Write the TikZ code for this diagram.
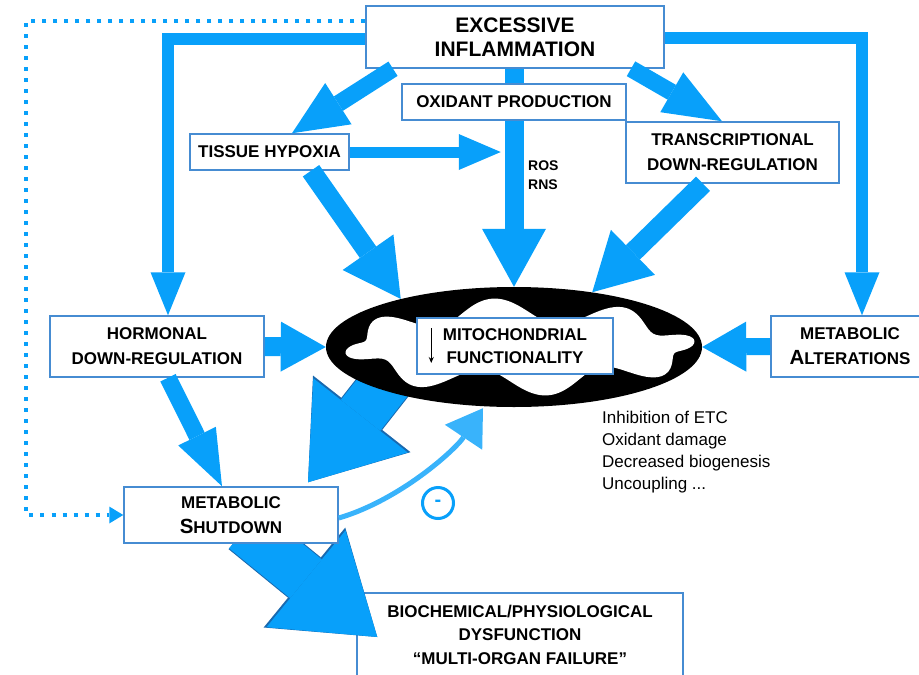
\documentclass[tikz,border=0pt]{standalone}
\usepackage{fontspec}
\setmainfont{Liberation Sans}
\usetikzlibrary{calc}
\usetikzlibrary{arrows.meta}
\usetikzlibrary{shapes.geometric}
\definecolor{flowblue}{RGB}{8,160,250}
\definecolor{boxblue}{RGB}{70,140,210}
\definecolor{bigedge}{RGB}{25,105,175}
\pgfdeclarelayer{under}
\pgfsetlayers{under,main}
\newcommand{\boxfont}{\bfseries\fontsize{17}{25}\selectfont}
\newcommand{\initcap}[1]{{\fontsize{20.5}{25}\selectfont #1}}

\begin{document}
\begin{tikzpicture}[x=1pt,y=-1pt,
        box/.style={draw=boxblue,line width=1.5pt,fill=white,align=center,font=\boxfont,inner sep=0pt},
        flow/.style n args={3}{draw=flowblue,line width=#1,-{Triangle[length=#2,width=#3,line width=0pt]}}]
                \useasboundingbox (0,0) rectangle (919,675);
                \clip (0,0) rectangle (919,675);
                % boxes
                \node[box,minimum width=298pt,minimum height=62pt,font=\bfseries\fontsize{21}{24}\selectfont] (excess) at (515,37) {EXCESSIVE\\INFLAMMATION};
                \node[box,minimum width=224pt,minimum height=36pt] (oxidant) at (514,102) {OXIDANT PRODUCTION};
                \node[box,minimum width=159pt,minimum height=36pt] (hypoxia) at (269.5,152) {TISSUE HYPOXIA};
                \node[box,minimum width=213pt,minimum height=61pt] (transc) at (732.5,152.5) {TRANSCRIPTIONAL\\DOWN-REGULATION};
                \node[box,minimum width=214pt,minimum height=61pt] (hormonal) at (157,346.5) {HORMONAL\\DOWN-REGULATION};
                \node[box,minimum width=158pt,minimum height=61pt] (metalt) at (850,346.5) {METABOLIC\\\initcap{A}LTERATIONS};
                \node[box,minimum width=214pt,minimum height=56pt] (shutdown) at (231,515) {METABOLIC\\\initcap{S}HUTDOWN};
                % mitochondrion
                \node[ellipse,fill=black,minimum width=376pt,minimum height=120pt,inner sep=0pt] (mito) at (514,347) {};
                \fill[white,shift={(mito.center)}] plot[domain=0:360,samples=160,smooth] ({6+(168+8*sin(8*\x+20))*cos(\x)},{-(36+13*sin(8*\x+20))*sin(\x)}) -- cycle;
                \node[box,minimum width=196pt,minimum height=56pt,font=\bfseries\fontsize{17}{23}\selectfont] (mitobox) at (515,346) {MITOCHONDRIAL\\FUNCTIONALITY};
                \draw[line width=1.5pt,-{Stealth[length=6pt,width=5pt]}] ($(mitobox.west)+(15,-18)$) -- ($(mitobox.west)+(15,17)$);
                % texts
                \node[anchor=west,align=left,inner sep=0pt,font=\bfseries\fontsize{14}{19}\selectfont] (ros) at (528,175) {ROS\\RNS};
                \node[anchor=north west,align=left,inner sep=0pt,font=\fontsize{17}{22}\selectfont] (effects) at (602,411) {Inhibition of ETC\\Oxidant damage\\Decreased biogenesis\\Uncoupling ...};
                % arrows
                \draw[flow={12pt}{43pt}{35pt}] ($(excess.west)+(0,2)$) -| ($(hormonal.north)+(11,0)$);
                \draw[flow={12pt}{43pt}{35pt}] ($(excess.east)+(0,1)$) -| ($(metalt.north)+(12,0)$);
                \draw[flowblue,line width=19pt] (oxidant.north) -- (oxidant.north |- excess.south);
                \draw[flow={17pt}{55pt}{49pt}] ($(excess.south)+(-122,0)$) -- ($(hypoxia.north)+(22.5,0)$);
                \draw[flow={17pt}{58pt}{46pt}] ($(excess.south)+(116,0)$) -- ($(transc.north)+(-10.5,0)$);
                \draw[flow={19pt}{58pt}{64pt}] (oxidant.south) -- (mito.north);
                \coordinate (rosend) at ($(hypoxia.east)+(151,0)$);
                \draw[flow={11pt}{42pt}{36pt}] (hypoxia.east) -- (rosend);
                \draw[flow={20pt}{57pt}{62pt}] ($(hypoxia.south)+(41.5,0)$) -- (mito.157);
                \draw[flow={20pt}{57pt}{63pt}] ($(transc.south)+(-29.5,0)$) -- (mito.35);
                \draw[flow={19pt}{45pt}{50pt}] (hormonal.east) -- (mito.west);
                \draw[flow={17pt}{44pt}{50pt}] (metalt.west) -- (mito.east);
                \draw[flow={17pt}{56pt}{42pt}] ($(hormonal.south)+(11,0)$) -- ($(shutdown.north)+(-9,0)$);
                % dotted feedback
                \draw[flowblue,line width=4pt,dash pattern=on 4pt off 7pt,-{Triangle[length=14pt,width=17pt,line width=0pt]}] ($(excess.north west)+(0,16)$) -| ($(shutdown.west)+(-97,0)$) -- (shutdown.west);
                % inhibition
                \draw[flowblue!80,line width=5pt,-{Triangle[length=35pt,width=45pt,line width=0pt]}] ($(shutdown.east)+(0,3)$) .. controls (400,500) and (455,450) .. ($(mito.south)+(-31,1)$);
                \node[circle,draw=flowblue,line width=3pt,minimum size=31pt,inner sep=0pt,text=flowblue,font=\bfseries\fontsize{20}{20}\selectfont] (minus) at (438,503) {-};
                % big arrows
                \begin{pgfonlayer}{under}
                \node[box,minimum width=326pt,minimum height=83pt,font=\bfseries\fontsize{17}{23.5}\selectfont] (bio) at (520,634.5) {BIOCHEMICAL/PHYSIOLOGICAL\\DYSFUNCTION\\“MULTI-ORGAN FAILURE”};
                \draw[bigedge,line width=52pt,-{Triangle[length=87pt,width=124pt,line width=0pt]}] ($(mito.center)+(-117,22)$) -- ($(shutdown.north)+(77,-4)$);
                \draw[flowblue,line width=50pt,-{Triangle[length=85pt,width=120pt,line width=0pt]}] ($(mito.center)+(-117,22)$) -- ($(shutdown.north)+(77,-4)$);
                \draw[bigedge,line width=52pt,-{Triangle[length=94pt,width=129pt,line width=0pt]}] ($(shutdown.center)+(14,14)$) -- ($(bio.west)+(21,2.5)$);
                \draw[flowblue,line width=50pt,-{Triangle[length=92pt,width=125pt,line width=0pt]}] ($(shutdown.center)+(14,14)$) -- ($(bio.west)+(21,2.5)$);
                \end{pgfonlayer}
            \end{tikzpicture}
\end{document}
